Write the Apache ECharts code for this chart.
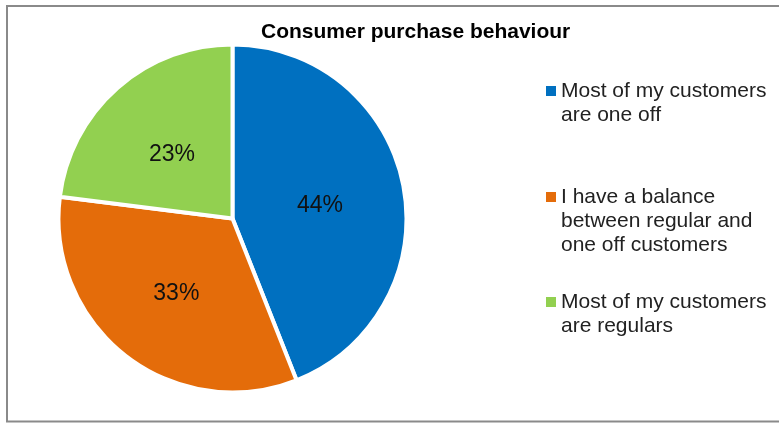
<!DOCTYPE html>
<html>
<head>
<meta charset="utf-8">
<script src="https://cdn.jsdelivr.net/npm/echarts@6/dist/echarts.min.js"></script>
<style>
  html, body { margin: 0; padding: 0; background: #fff; }
  #chart { width: 779px; height: 423px; }
</style>
</head>
<body>
<div id="chart"></div>
<script>
// Survey answers and their shares (percent)
const categories = [
  'Most of my customers\nare one off',
  'I have a balance\nbetween regular and\none off customers',
  'Most of my customers\nare regulars'
];
const shares = [44, 33, 23];
const colors = ['#0070C0', '#E46C0A', '#92D050'];
const titleText = 'Consumer purchase behaviour';

const FONT = '"Liberation Sans", Arial, sans-serif';
const LINE_H = 24;

// One legend block per answer so each can sit at its own height.
// Legend text is centred on its swatch, so blank lines are prepended
// to keep the swatch level with the first line of the wrapped name.
const legendTops = [55, 137, 266];
const legends = categories.map((name, i) => {
  const lines = name.split('\n').length;
  return {
    data: [name],
    orient: 'vertical',
    left: 546,
    top: legendTops[i],
    padding: 0,
    icon: 'rect',
    itemWidth: 10,
    itemHeight: 10,
    itemGap: 0,
    selectedMode: false,
    itemStyle: { borderWidth: 0 },
    formatter: n => '\n'.repeat(lines - 1) + n,
    textStyle: {
      fontFamily: FONT,
      fontSize: 21,
      color: '#222',
      lineHeight: LINE_H
    }
  };
});

const chart = echarts.init(document.getElementById('chart'), null, { renderer: 'canvas' });
chart.setOption({
  animation: false,
  backgroundColor: '#fff',
  color: colors,
  title: {
    text: titleText,
    left: 261,
    top: 22,
    padding: 0,
    textStyle: { fontFamily: FONT, fontSize: 21, fontWeight: 'bold', color: '#000' }
  },
  legend: legends,
  graphic: [{
    type: 'rect',
    silent: true,
    z: 100,
    shape: { x: 7, y: 6, width: 800, height: 415.5 },
    style: { fill: 'none', stroke: '#8a8a8a', lineWidth: 2 }
  }],
  series: [{
    type: 'pie',
    center: [232.5, 218.5],
    radius: 174,
    startAngle: 90,
    clockwise: true,
    avoidLabelOverlap: false,
    itemStyle: { borderColor: '#fff', borderWidth: 4 },
    label: {
      show: true,
      position: 'inside',
      formatter: '{c}%',
      fontFamily: FONT,
      fontSize: 23,
      color: '#111',
      offset: [-1, 4]
    },
    labelLine: { show: false },
    emphasis: { disabled: true },
    data: categories.map((name, i) => ({ name: name, value: shares[i] }))
  }]
});
</script>
</body>
</html>
